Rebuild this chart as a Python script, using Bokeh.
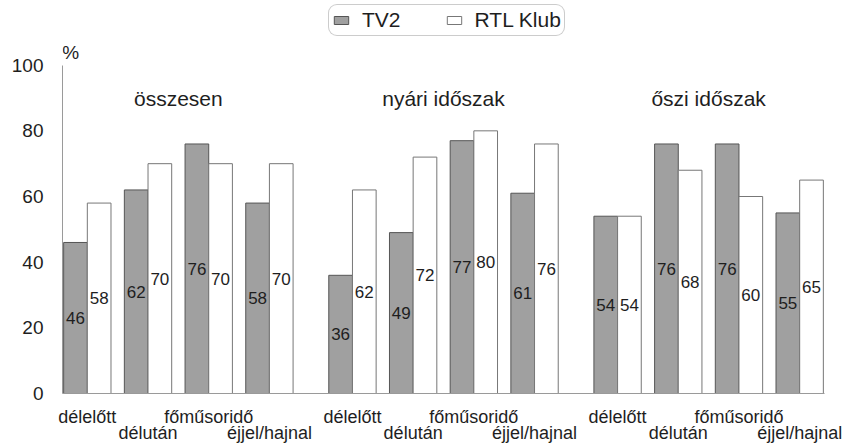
from bokeh.plotting import figure
from bokeh.models import (FactorRange, ColumnDataSource, Legend, LegendItem,
                          FixedTicker, Range1d, CategoricalAxis, CustomJSTickFormatter)
from bokeh.transform import dodge
from bokeh.core.properties import value
from bokeh.embed import file_html
from bokeh.resources import INLINE

# ---- data ----
groups = ["összesen", "nyári időszak", "őszi időszak"]
categories = ["délelőtt", "délután", "főműsoridő", "éjjel/hajnal"]
tv2 = [46, 62, 76, 58, 36, 49, 77, 61, 54, 76, 76, 55]
rtl = [58, 70, 70, 70, 62, 72, 80, 76, 54, 68, 60, 65]
y_ticks = [0, 20, 40, 60, 80, 100]
series_names = ["TV2", "RTL Klub"]

FONT = "Liberation Sans"
TV2_FILL = "#a0a0a0"
TV2_LINE = "#555555"
RTL_LINE = "#777777"
TXT = "#1e1e1e"
AXIS = "#9a9a9a"

factors = [(g, c) for g in groups for c in categories]
src = ColumnDataSource(dict(
    x=factors,
    tv2=tv2, rtl=rtl,
    tv2_mid=[v / 2 for v in tv2], rtl_mid=[v / 2 for v in rtl],
    tv2_txt=[str(v) for v in tv2], rtl_txt=[str(v) for v in rtl],
))

x_range = FactorRange(*factors, group_padding=0.368, range_padding=-0.091,
                      range_padding_units="absolute")

p = figure(x_range=x_range, y_range=Range1d(0, 119.7),
           width=848, height=445, output_backend="svg", toolbar_location=None,
           x_axis_location=None, min_border_left=62, min_border_right=24,
           min_border_top=0, min_border_bottom=50, outline_line_color=None,
           background_fill_color="white", border_fill_color="white")

p.xgrid.visible = False
p.ygrid.visible = False

yax = p.yaxis[0]
yax.bounds = (0, 100)
yax.ticker = FixedTicker(ticks=y_ticks)
yax.major_tick_out = 0
yax.major_tick_in = 0
yax.minor_tick_out = 0
yax.minor_tick_in = 0
yax.axis_line_color = AXIS
yax.major_label_text_font = FONT
yax.major_label_text_font_size = "19px"
yax.major_label_text_color = TXT
yax.major_label_standoff = 19

# x axis: baseline + staggered category labels (odd ones pushed to a second line)
xax = CategoricalAxis(
    formatter=CustomJSTickFormatter(code="return (index % 2 == 1) ? '\\n' + tick : tick;"),
    axis_line_color=AXIS, major_tick_out=0, major_tick_in=0,
    minor_tick_out=0, minor_tick_in=0,
    major_label_text_font=FONT, major_label_text_font_size="18px",
    major_label_text_color=TXT, major_label_text_line_height=0.82,
    major_label_standoff=13,
    group_text_font_size="0px", group_text_alpha=0.0,
    separator_line_color=None, subgroup_text_font_size="0px")
p.add_layout(xax, "below")

r1 = p.vbar(x=dodge("x", -0.195, range=p.x_range), top="tv2", width=0.39, source=src,
            fill_color=TV2_FILL, line_color=TV2_LINE, line_width=1)
r2 = p.vbar(x=dodge("x", 0.195, range=p.x_range), top="rtl", width=0.39, source=src,
            fill_color="white", line_color=RTL_LINE, line_width=1)

common = dict(text_font=value(FONT), text_color=TXT, text_align="center",
              text_baseline="middle", text_font_size=value("17px"))
p.text(x=dodge("x", -0.195, range=p.x_range), y="tv2_mid", text="tv2_txt", source=src, **common)
p.text(x=dodge("x", 0.195, range=p.x_range), y="rtl_mid", text="rtl_txt", source=src, **common)

# group titles
p.text(x=groups, y=[89.7] * len(groups), text=groups,
       text_font=value(FONT), text_font_size=value("21px"), text_color=TXT,
       text_align="center", text_baseline="alphabetic")

# % unit label
p.text(x=[factors[0]], y=[103.9], text=["%"], x_offset=-25,
       text_font=value(FONT), text_font_size=value("19px"), text_color=TXT,
       text_align="left", text_baseline="alphabetic")

legend = Legend(items=[LegendItem(label=series_names[0], renderers=[r1]),
                       LegendItem(label=series_names[1], renderers=[r2])],
                orientation="horizontal", location=(266, 357),
                label_text_font=FONT, label_text_font_size="21px",
                label_text_color=TXT,
                glyph_width=18, glyph_height=10, label_standoff=12, spacing=44,
                padding=3, margin=0, border_line_color="#999999",
                border_line_width=1, background_fill_color="white",
                background_fill_alpha=1.0)
if "border_radius" in Legend.properties():
    legend.border_radius = 9
p.add_layout(legend, "center")

open("out.html", "w").write(file_html(p, INLINE))
